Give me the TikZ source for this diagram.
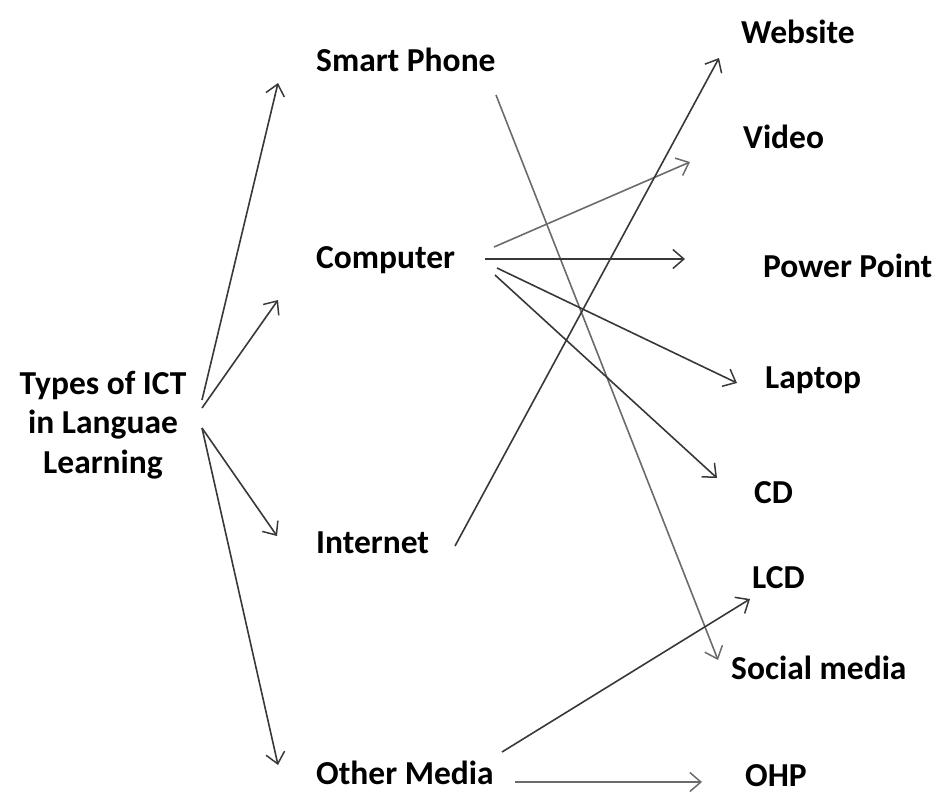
\documentclass[tikz,border=0pt]{standalone}
\usepackage{fontspec}
\setmainfont{Carlito}
\usetikzlibrary{arrows.meta}
\begin{document}
\begin{tikzpicture}[x=1pt,y=-1pt,
  lbl/.style={font=\fontsize{33.5}{40}\selectfont\bfseries, inner sep=0pt, anchor=base west},
  conn/.style={draw=black!78, line width=1.6pt, -{Straight Barb[length=11pt,width=19pt,line width=1.5pt]}},
  connl/.style={conn, draw=black!58}]
\useasboundingbox (0,0) rectangle (940,793);
% texts
\node[font=\fontsize{33.5}{39.5}\selectfont\bfseries, inner sep=0pt, align=center, anchor=center] (ict) at (103,425) {Types of ICT\\in Languae\\Learning};
\node[lbl] (sp) at (316,71) {Smart Phone};
\node[lbl] (comp) at (316,268) {Computer};
\node[lbl] (inet) at (316,553) {Internet};
\node[lbl] (om) at (316,784) {Other Media};
\node[lbl] (web) at (741,43) {Website};
\node[lbl] (vid) at (743,148) {Video};
\node[lbl] (pp) at (763,277) {Power Point};
\node[lbl] (lap) at (765,388) {Laptop};
\node[lbl] (cd) at (754,503) {CD};
\node[lbl] (lcd) at (752,588) {LCD};
\node[lbl] (soc) at (731,679) {Social media};
\node[lbl] (ohp) at (745,786) {OHP};
% connector ends
\coordinate (ict-a) at (202,400);
\coordinate (ict-b) at (202,408);
\coordinate (ict-c) at (202,428);
\coordinate (sp-in) at (278,83);
\coordinate (comp-in) at (278,300);
\coordinate (inet-in) at (277,536);
\coordinate (om-in) at (278,765);
\coordinate (sp-out) at (496,95);
\coordinate (comp-v) at (494,247);
\coordinate (comp-p) at (485,259);
\coordinate (comp-l) at (497,268);
\coordinate (comp-c) at (495,275);
\coordinate (inet-out) at (455,546);
\coordinate (om-l) at (502,752);
\coordinate (om-o) at (515,782);
\coordinate (web-in) at (719,58);
\coordinate (vid-in) at (690,162);
\coordinate (pp-in) at (685,259);
\coordinate (lap-in) at (737,383);
\coordinate (cd-in) at (717,478);
\coordinate (lcd-in) at (750,599);
\coordinate (soc-in) at (718,660);
\coordinate (ohp-in) at (702,782);
% connectors
\draw[conn] (ict-a) -- (sp-in);
\draw[conn] (ict-b) -- (comp-in);
\draw[conn] (ict-c) -- (inet-in);
\draw[conn] (ict-c) -- (om-in);
\draw[connl] (sp-out) -- (soc-in);
\draw[connl] (comp-v) -- (vid-in);
\draw[conn] (comp-p) -- (pp-in);
\draw[conn] (comp-l) -- (lap-in);
\draw[conn] (comp-c) -- (cd-in);
\draw[conn] (inet-out) -- (web-in);
\draw[conn] (om-l) -- (lcd-in);
\draw[connl] (om-o) -- (ohp-in);
\end{tikzpicture}
\end{document}
